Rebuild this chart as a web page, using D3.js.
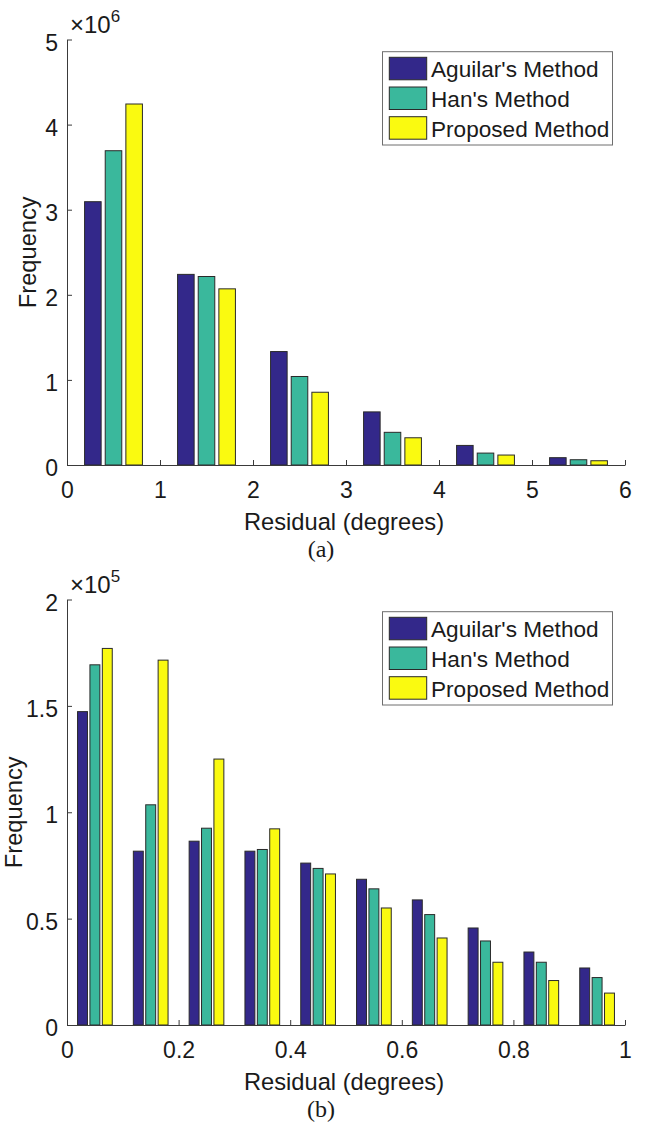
<!DOCTYPE html>
<html>
<head>
<meta charset="utf-8">
<script src="https://cdn.jsdelivr.net/npm/d3@7/dist/d3.min.js"></script>
<style>
  html, body { margin: 0; padding: 0; background: #ffffff; }
  svg { display: block; }
  text { font-family: "Liberation Sans", Arial, Helvetica, sans-serif; fill: #1a1a1a; }
  .caption { font-family: "Liberation Serif", "Times New Roman", serif; }
</style>
</head>
<body>
<svg id="fig" width="645" height="1123"></svg>
<script>
// Series names and colours
const seriesNames = ["Aguilar's Method", "Han's Method", "Proposed Method"];
const seriesColors = ["#33288a", "#3ab89c", "#fafa10"];

// Panel (a): residual histogram, 0-6 degrees, bin width 1
const binsA = [0.5, 1.5, 2.5, 3.5, 4.5, 5.5];
const aguilarA = [3094000, 2240000, 1333000, 624000, 230000, 86000];
const hanA = [3693000, 2215000, 1040000, 384000, 140000, 62000];
const proposedA = [4242000, 2070000, 855000, 320000, 117000, 50000];
const xTicksA = [0, 1, 2, 3, 4, 5, 6];
const yTicksA = [0, 1, 2, 3, 4, 5];

// Panel (b): residual histogram, 0-1 degrees, bin width 0.1
const binsB = [0.05, 0.15, 0.25, 0.35, 0.45, 0.55, 0.65, 0.75, 0.85, 0.95];
const aguilarB = [147300, 81700, 86400, 81700, 76100, 68500, 58800, 45600, 34300, 26800];
const hanB = [169300, 103500, 92500, 82500, 73600, 64000, 51900, 39500, 29500, 22300];
const proposedB = [177000, 171500, 125000, 92200, 71000, 55000, 40900, 29500, 20900, 15000];
const xTicksB = [0, 0.2, 0.4, 0.6, 0.8, 1];
const yTicksB = [0, 0.5, 1, 1.5, 2];

const svg = d3.select("#fig");
svg.append("rect").attr("width", 645).attr("height", 1123).attr("fill", "#ffffff");

function drawPanel(p) {
  const g = svg.append("g").attr("transform", `translate(0,${p.offsetY})`);
  const left = 67, right = 625, top = 39.5, bottom = 465;

  const x = d3.scaleLinear().domain(p.xDomain).range([left, right]);
  const y = d3.scaleLinear().domain([0, p.yMax * p.scale]).range([bottom, top]);

  // grouped bars
  const barOffsets = [-0.222, 0, 0.222];
  const barW = x(p.binWidth * 0.178) - x(0);
  p.series.forEach((vals, si) => {
    g.append("g").selectAll("rect")
      .data(vals.map((v, i) => ({ c: p.bins[i], v })))
      .join("rect")
      .attr("x", d => x(d.c + barOffsets[si] * p.binWidth) - barW / 2)
      .attr("width", barW)
      .attr("y", d => y(d.v))
      .attr("height", d => y(0) - y(d.v))
      .attr("fill", seriesColors[si])
      .attr("stroke", "#2a2a2a")
      .attr("stroke-width", 1);
  });

  // axes with inward ticks
  const xAxis = d3.axisBottom(x).tickValues(p.xTicks).tickSize(-5).tickSizeOuter(0).tickPadding(17)
    .tickFormat(d => d3.format("~g")(d));
  const gx = g.append("g").attr("transform", `translate(0,${bottom})`).call(xAxis);
  const yAxis = d3.axisLeft(y).tickValues(p.yTicks.map(t => t * p.scale)).tickSize(-5).tickSizeOuter(0).tickPadding(9)
    .tickFormat(d => d3.format("~g")(d / p.scale));
  const gy = g.append("g").attr("transform", `translate(${left},0)`).call(yAxis);

  [gx, gy].forEach(ax => {
    ax.select(".domain").attr("stroke", "#3a3a3a").attr("stroke-width", 1);
    ax.selectAll(".tick line").attr("stroke", "#3a3a3a");
    ax.selectAll(".tick text")
      .attr("font-family", "Liberation Sans, Arial, sans-serif")
      .attr("font-size", 23)
      .attr("fill", "#1a1a1a");
  });
  gy.selectAll(".tick text").attr("dy", "0.46em");

  // exponent label
  const expo = g.append("text").attr("x", 70).attr("y", 33).attr("font-size", 24);
  expo.append("tspan").text("\u00d710");
  expo.append("tspan").attr("font-size", 17).attr("dy", -11).text(p.exponent);

  // axis labels
  g.append("text")
    .attr("x", (left + right) / 2 - 2).attr("y", 530)
    .attr("text-anchor", "middle").attr("font-size", 23.7)
    .text("Residual (degrees)");
  g.append("text")
    .attr("transform", `translate(${p.yLabelX},${(top + bottom) / 2}) rotate(-90)`)
    .attr("text-anchor", "middle").attr("font-size", 23.7)
    .text("Frequency");

  // panel caption
  g.append("text").attr("class", "caption")
    .attr("x", 321).attr("y", 557)
    .attr("text-anchor", "middle").attr("font-size", 24)
    .text(p.caption);

  // legend
  const lg = g.append("g");
  lg.append("rect").attr("x", 382.5).attr("y", 51.7).attr("width", 230).attr("height", 93.3)
    .attr("fill", "#ffffff").attr("stroke", "#6e6e6e").attr("stroke-width", 1);
  seriesNames.forEach((name, i) => {
    const ry = 57.3 + i * 29.7;
    lg.append("rect").attr("x", 389.3).attr("y", ry).attr("width", 37.4).attr("height", 22.5)
      .attr("fill", seriesColors[i]).attr("stroke", "#2a2a2a").attr("stroke-width", 1);
    lg.append("text").attr("x", 431).attr("y", ry + 19.8).attr("font-size", 22.6).text(name);
  });
}

drawPanel({
  offsetY: 0, xDomain: [0, 6], bins: binsA, binWidth: 1,
  series: [aguilarA, hanA, proposedA], xTicks: xTicksA, yTicks: yTicksA,
  yMax: 5, scale: 1e6, exponent: "6", yLabelX: 36, caption: "(a)"
});
drawPanel({
  offsetY: 560, xDomain: [0, 1], bins: binsB, binWidth: 0.1,
  series: [aguilarB, hanB, proposedB], xTicks: xTicksB, yTicks: yTicksB,
  yMax: 2, scale: 1e5, exponent: "5", yLabelX: 22, caption: "(b)"
});
</script>
</body>
</html>
